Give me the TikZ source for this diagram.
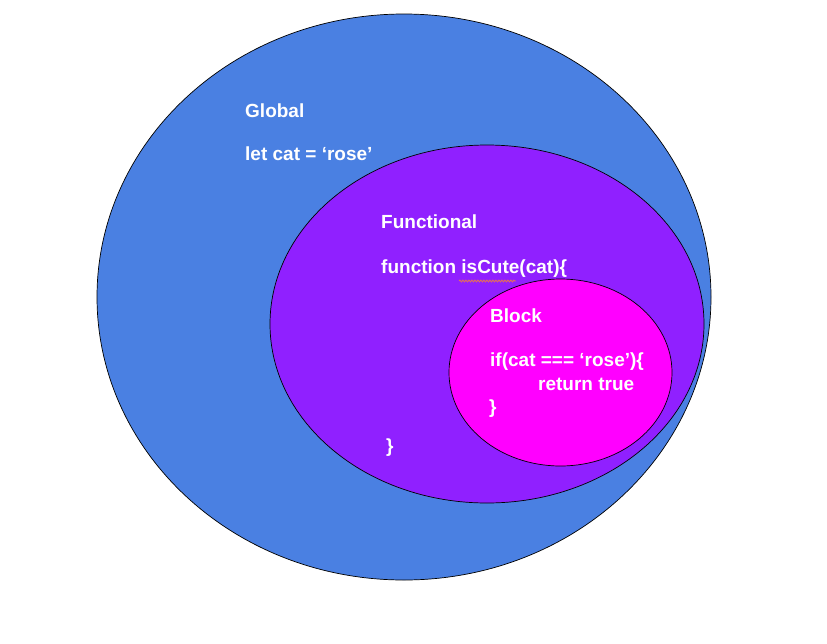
\documentclass[tikz,border=0pt]{standalone}
\usepackage{fontspec}
\setmainfont{Liberation Sans}
\usetikzlibrary{decorations.pathmorphing}
\definecolor{globalblue}{RGB}{74,128,226}
\definecolor{funcpurple}{RGB}{144,32,255}
\definecolor{blockpink}{RGB}{255,0,255}
\definecolor{spellred}{RGB}{226,110,90}
\begin{document}
\begin{tikzpicture}[x = 1pt, y = -1pt,
		bereich/.style = {draw = black, line width = 0.7pt},
		code/.style = {anchor = base west, inner sep = 0pt, text = white, font = \fontsize{19}{22}\selectfont\bfseries}]

\useasboundingbox[fill = white] (0,0) rectangle (827,643);

% Global
\draw[bereich, fill = globalblue] (404,297) ellipse [x radius = 307pt, y radius = 283pt];
% Functional
\draw[bereich, fill = funcpurple] (487,324) ellipse [x radius = 217pt, y radius = 179pt];
% Block
\draw[bereich, fill = blockpink] (560.5,372.5) ellipse [x radius = 111.5pt, y radius = 93.5pt];

% Kennung
\node[code] (global) at (245,117) {Global};
\node[code] (letcat) at (245,160) {let cat = ‘rose’};
\node[code] (functional) at (381,228) {Functional};
\node[code] (function) at (381,273) {function isCute(cat)\{};
\node[code] (funcend) at (386,452) {\}};
\node[code] (block) at (490,322) {Block};
\node[code] (ifcat) at (490,366) {if(cat === ‘rose’)\{};
\node[code] (return) at (538,390) {return true};
\node[code] (ifend) at (489,413) {\}};

% Rechtschreibung
\draw[spellred, line width = 0.9pt, decorate, decoration = {snake, amplitude = 0.9pt, segment length = 3pt}]
	(459,281) -- (516,281);

\end{tikzpicture}
\end{document}
